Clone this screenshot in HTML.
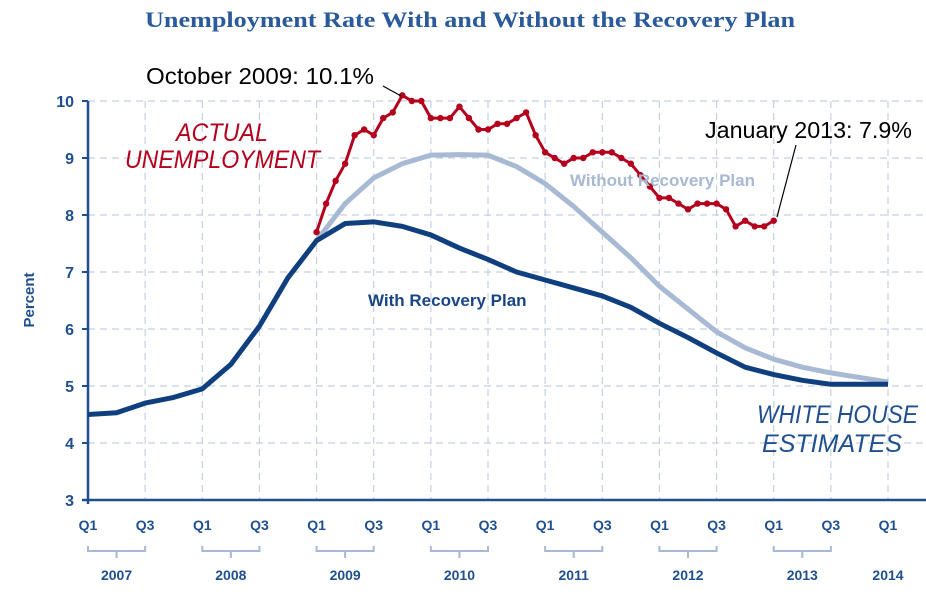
<!DOCTYPE html>
<html><head><meta charset="utf-8"><style>
body{margin:0;background:#fff;width:926px;height:591px;overflow:hidden}
svg text{font-family:"Liberation Sans",sans-serif}
</style></head><body>
<svg id="chart" width="926" height="591" viewBox="0 0 926 591" xmlns="http://www.w3.org/2000/svg">
<text x="145" y="27" textLength="650" lengthAdjust="spacingAndGlyphs" font-weight="bold" font-size="22" fill="#2a5a9a" style="font-family:'Liberation Serif',serif">Unemployment Rate With and Without the Recovery Plan</text>
<g id="grid"></g><g id="axes"></g><g id="series"></g>
<text transform="translate(34,300) rotate(-90)" text-anchor="middle" font-weight="bold" font-size="15" fill="#1f4f8f">Percent</text>
<text x="146" y="84" textLength="228" lengthAdjust="spacingAndGlyphs" font-size="23" fill="#000">October 2009: 10.1%</text>
<line x1="383" y1="86" x2="401" y2="96" stroke="#000" stroke-width="1.2"/>
<text x="705" y="138" textLength="207" lengthAdjust="spacingAndGlyphs" font-size="23" fill="#000">January 2013: 7.9%</text>
<line x1="796" y1="145" x2="777" y2="217" stroke="#000" stroke-width="1.2"/>
<g font-style="italic" font-size="25" fill="#b5001d"><text x="176" y="141" textLength="92" lengthAdjust="spacingAndGlyphs">ACTUAL</text><text x="125" y="168" textLength="195" lengthAdjust="spacingAndGlyphs">UNEMPLOYMENT</text></g>
<g font-style="italic" font-size="25" fill="#1f4f8f"><text x="757" y="423" textLength="161" lengthAdjust="spacingAndGlyphs">WHITE HOUSE</text><text x="762" y="452" textLength="140" lengthAdjust="spacingAndGlyphs">ESTIMATES</text></g>
<text x="570" y="186" font-weight="bold" font-size="17" fill="#a7b9d3">Without Recovery Plan</text>
<text x="368" y="306" font-weight="bold" font-size="17" fill="#1a4585">With Recovery Plan</text>
</svg>
<script>
const yTicks=[3,4,5,6,7,8,9,10];
const years=["2007","2008","2009","2010","2011","2012","2013","2014"];
const withPlan=[4.5,4.53,4.7,4.8,4.95,5.38,6.05,6.9,7.55,7.85,7.88,7.8,7.65,7.42,7.22,7.0,6.86,6.72,6.58,6.38,6.1,5.85,5.58,5.33,5.2,5.1,5.03,5.03,5.03];
const withoutPlan=[7.55,8.2,8.65,8.9,9.05,9.06,9.05,8.85,8.55,8.15,7.7,7.25,6.75,6.35,5.95,5.67,5.47,5.33,5.23,5.15,5.07];
const actual=[7.7,8.2,8.6,8.9,9.4,9.5,9.4,9.7,9.8,10.1,10.0,10.0,9.7,9.7,9.7,9.9,9.7,9.5,9.5,9.6,9.6,9.7,9.8,9.4,9.1,9.0,8.9,9.0,9.0,9.1,9.1,9.1,9.0,8.9,8.7,8.5,8.3,8.3,8.2,8.1,8.2,8.2,8.2,8.1,7.8,7.9,7.8,7.8,7.9];
const NS="http://www.w3.org/2000/svg";
const X0=88,QW=800/28,Y0=500,YU=57;
const xq=q=>X0+q*QW;
const y=v=>Y0-(v-3)*YU;
function mk(par,tag,at){const e=document.createElementNS(NS,tag);for(const k in at)e.setAttribute(k,at[k]);document.getElementById(par).appendChild(e);return e;}
for(const t of yTicks){
 if(t>3){const g=mk("grid","line",{x1:X0,x2:926,y1:y(t),y2:y(t),stroke:"#c3d0e3","stroke-width":1.2,"stroke-dasharray":"7,5"});
 
 }
 const l=mk("axes","text",{x:74,y:y(t)+6,"text-anchor":"end","font-weight":"bold","font-size":16,fill:"#1f4f8f"});l.textContent=t;
 
 
 const tk=mk("axes","line",{x1:X0-6,x2:X0,y1:y(t),y2:y(t),stroke:"#1f4f8f","stroke-width":2});
 
 
}
for(let h=1;h<=14;h++){
 const g=mk("grid","line",{x1:xq(h*2),x2:xq(h*2),y1:y(10),y2:Y0,stroke:"#c3d0e3","stroke-width":1.2,"stroke-dasharray":"7,5"});
 
 
}
for(let h=0;h<=14;h++){
 const l=mk("axes","text",{x:xq(h*2),y:530,"text-anchor":"middle","font-weight":"bold","font-size":14,fill:"#1f4f8f"});l.textContent=h%2?"Q3":"Q1";
 
 
}
years.forEach((yr,i)=>{
 const cx=i<7?xq(i*4+1):xq(i*4);
 if(i<7){const b=mk("axes","path",{d:`M${xq(i*4)},546 v5 H${xq(i*4+2)} v-5 M${cx},551 v7`,fill:"none",stroke:"#a7b9d3","stroke-width":2});
 
 }
 const l=mk("axes","text",{x:cx,y:580,"text-anchor":"middle","font-weight":"bold","font-size":14,fill:"#1f4f8f"});l.textContent=yr;
 
 
});
const ya=mk("axes","line",{x1:X0,x2:X0,y1:y(10),y2:Y0+4,stroke:"#1f4f8f","stroke-width":2.5});


const xa=mk("axes","line",{x1:X0-6,x2:926,y1:Y0,y2:Y0,stroke:"#1f4f8f","stroke-width":2.5});


const p1=mk("series","polyline",{points:withoutPlan.map((v,i)=>xq(i+8)+","+y(v)).join(" "),fill:"none",stroke:"#a7b9d3","stroke-width":5,"stroke-linejoin":"round"});


const p2=mk("series","polyline",{points:withPlan.map((v,i)=>xq(i)+","+y(v)).join(" "),fill:"none",stroke:"#0f3f7f","stroke-width":5,"stroke-linejoin":"round"});


const xm=m=>xq(8+m/3);
const p3=mk("series","polyline",{points:actual.map((v,i)=>xm(i)+","+y(v)).join(" "),fill:"none",stroke:"#b5001d","stroke-width":3,"stroke-linejoin":"round"});


actual.forEach((v,i)=>{const c=mk("series","circle",{cx:xm(i),cy:y(v),r:3.2,fill:"#b5001d"});
 
 });
</script>
</body></html>
